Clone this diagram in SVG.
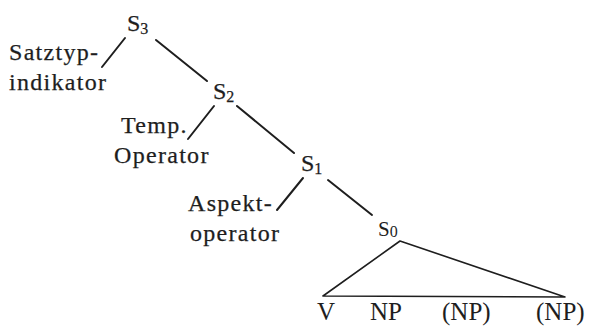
<svg xmlns="http://www.w3.org/2000/svg" width="589" height="327" viewBox="0 0 589 327">
  <style>
    .lbl { font-family: "Liberation Serif", "Times New Roman", serif; font-size: 24px; letter-spacing: 1.3px; fill: #1e1e1e; stroke: #1e1e1e; stroke-width: 0.25; }
    .node { font-family: "Liberation Serif", "Times New Roman", serif; font-size: 24px; fill: #1e1e1e; stroke: #1e1e1e; stroke-width: 0.25; }
    .sub { font-size: 16px; }
    .term { font-family: "Liberation Serif", "Times New Roman", serif; font-size: 25px; fill: #1e1e1e; }
    .edge { stroke: #1e1e1e; stroke-width: 2; fill: none; stroke-linecap: round; }
    .tri { stroke: #1e1e1e; stroke-width: 1.6; fill: none; stroke-linejoin: round; }
  </style>
  <rect width="589" height="327" fill="#ffffff"/>

  <!-- tree edges -->
  <g id="connectors">
    <line class="edge" x1="125" y1="38" x2="102" y2="67"/>
    <line class="edge" x1="156" y1="40" x2="207" y2="81"/>
    <line class="edge" x1="214" y1="106" x2="188" y2="139"/>
    <line class="edge" x1="237" y1="106" x2="294" y2="153"/>
    <line class="edge" x1="303" y1="178" x2="277" y2="210"/>
    <line class="edge" x1="328" y1="180" x2="372" y2="215"/>
    <polygon class="tri" points="400,241 323,296 565,297"/>
  </g>

  <!-- sentence nodes -->
  <g id="s3"><text class="node" x="127" y="31">S<tspan class="sub" dy="3">3</tspan></text></g>
  <g id="s2"><text class="node" x="213" y="99">S<tspan class="sub" dy="3">2</tspan></text></g>
  <g id="s1"><text class="node" x="301" y="171">S<tspan class="sub" dy="3">1</tspan></text></g>
  <g id="s0"><text class="node" x="378" y="236" style="font-size:21px;stroke-width:0">S<tspan class="sub" dy="1">0</tspan></text></g>

  <!-- operator labels -->
  <g id="satztyp">
    <text class="lbl" x="9" y="60">Satztyp-</text>
    <text class="lbl" x="9" y="90">indikator</text>
  </g>
  <g id="temp">
    <text class="lbl" x="121" y="133">Temp.</text>
    <text class="lbl" x="114" y="163">Operator</text>
  </g>
  <g id="aspekt">
    <text class="lbl" x="188" y="211">Aspekt-</text>
    <text class="lbl" x="190" y="241">operator</text>
  </g>

  <!-- terminal categories -->
  <g id="terminals">
    <text class="term" x="317" y="320">V</text>
    <text class="term" x="370" y="320">NP</text>
    <text class="term" x="442" y="320">(NP)</text>
    <text class="term" x="536" y="320">(NP)</text>
  </g>
</svg>
